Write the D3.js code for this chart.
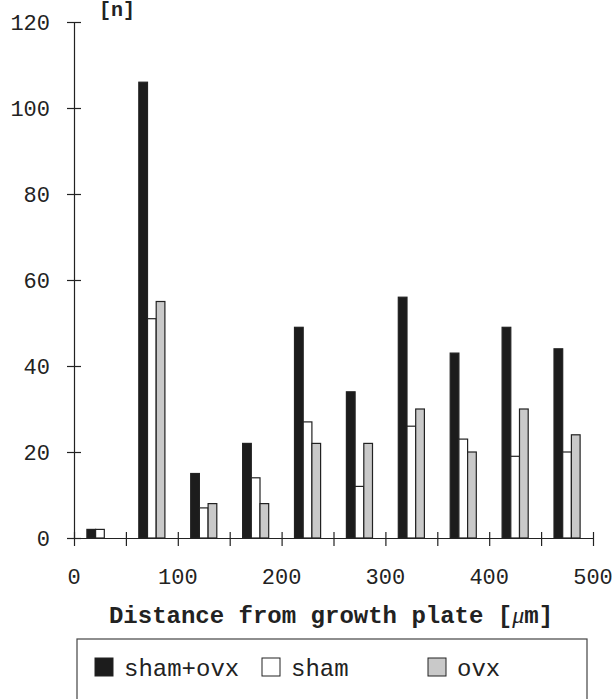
<!DOCTYPE html>
<html>
<head>
<meta charset="utf-8">
<script src="https://cdn.jsdelivr.net/npm/d3@7"></script>
<style>
  body { margin: 0; background: #fff; }
  svg { display: block; font-family: "Liberation Mono", "Courier New", monospace; }
</style>
</head>
<body>
<svg id="chart" width="615" height="699"></svg>
<script>
const distances = [25, 75, 125, 175, 225, 275, 325, 375, 425, 475];
const shamOvx = [2, 106, 15, 22, 49, 34, 56, 43, 49, 44];
const sham = [2, 51, 7, 14, 27, 12, 26, 23, 19, 20];
const ovx = [0, 55, 8, 8, 22, 22, 30, 20, 30, 24];
const seriesNames = ['sham+ovx', 'sham', 'ovx'];
const seriesFill = ['#1c1c1c', '#ffffff', '#c9c9c9'];
const yTicks = [0, 20, 40, 60, 80, 100, 120];
const xTicks = [0, 50, 100, 150, 200, 250, 300, 350, 400, 450, 500];
const xLabels = [0, 100, 200, 300, 400, 500];

const svg = d3.select('#chart');
const ink = '#222';

const x = d3.scaleLinear().domain([0, 500]).range([74, 593]);
const y = d3.scaleLinear().domain([0, 120]).range([538, 22]);
const barW = 8.7;

const rows = distances.map((d, i) => ({ d, values: [shamOvx[i], sham[i], ovx[i]] }));

// bars
const groups = svg.append('g').selectAll('g')
    .data(rows)
    .enter()
    .append('g');

groups.selectAll('rect')
    .data((r) => r.values.map((v, k) => ({ d: r.d, v, k })).filter((b) => b.v > 0))
    .enter()
    .append('rect')
        .attr('x', (b) => x(b.d) - 1.5 * barW + b.k * barW)
        .attr('y', (b) => y(b.v))
        .attr('width', barW)
        .attr('height', (b) => y(0) - y(b.v))
        .attr('fill', (b) => seriesFill[b.k])
        .attr('stroke', ink)
        .attr('stroke-width', 1.2);

// y axis
const yAxis = svg.append('g')
    .attr('transform', `translate(${x(0)}, 0)`)
    .call(d3.axisLeft(y).tickValues(yTicks).tickSize(0).tickPadding(24));
yAxis.select('.domain').attr('stroke', ink).attr('stroke-width', 1.2);
yAxis.selectAll('.tick line').remove();
yAxis.selectAll('.tick').append('line')
    .attr('x1', -7).attr('x2', 7)
    .attr('stroke', ink).attr('stroke-width', 1.2);
yAxis.selectAll('.tick text')
    .attr('font-size', 22)
    .attr('font-family', '"Liberation Mono", "Courier New", monospace')
    .attr('fill', ink);

// x axis
const xAxis = svg.append('g')
    .attr('transform', `translate(0, ${y(0)})`)
    .call(d3.axisBottom(x).tickValues(xTicks).tickSize(0).tickFormat(() => ''));
xAxis.select('.domain').attr('stroke', ink).attr('stroke-width', 1.2);
xAxis.selectAll('.tick line').remove();
xAxis.selectAll('.tick').append('line')
    .attr('y1', -6).attr('y2', 8)
    .attr('stroke', ink).attr('stroke-width', 1.2);

svg.append('g').selectAll('text')
    .data(xLabels)
    .enter()
    .append('text')
        .attr('x', (d) => x(d))
        .attr('y', 584)
        .attr('text-anchor', 'middle')
        .attr('font-size', 22)
        .attr('fill', ink)
        .text((d) => d);

// axis titles
svg.append('text')
    .attr('x', 117)
    .attr('y', 16)
    .attr('text-anchor', 'middle')
    .attr('font-size', 20)
    .attr('font-weight', 'bold')
    .attr('fill', ink)
    .text('[n]');

const xTitle = svg.append('text')
    .attr('x', 331)
    .attr('y', 623)
    .attr('text-anchor', 'middle')
    .attr('font-size', 24)
    .attr('font-weight', 'bold')
    .attr('fill', ink);
xTitle.append('tspan').text('Distance from growth plate [');
xTitle.append('tspan').attr('font-style', 'italic').attr('font-weight', 'normal')
    .attr('font-family', '"Liberation Serif", serif').text('μ');
xTitle.append('tspan').text('m]');

// legend
const legend = svg.append('g');
legend.append('rect')
    .attr('x', 77).attr('y', 639)
    .attr('width', 510).attr('height', 80)
    .attr('fill', 'none')
    .attr('stroke', '#444')
    .attr('stroke-width', 1.2);

const legendX = [95, 262, 428];
const items = legend.selectAll('g.item')
    .data(seriesNames)
    .enter()
    .append('g')
        .attr('class', 'item')
        .attr('transform', (d, i) => `translate(${legendX[i]}, 658)`);
items.append('rect')
    .attr('width', 18).attr('height', 18)
    .attr('fill', (d, i) => seriesFill[i])
    .attr('stroke', ink)
    .attr('stroke-width', 1);
items.append('text')
    .attr('x', 29)
    .attr('y', 18)
    .attr('font-size', 24)
    .attr('fill', ink)
    .text((d) => d);
</script>
</body>
</html>
